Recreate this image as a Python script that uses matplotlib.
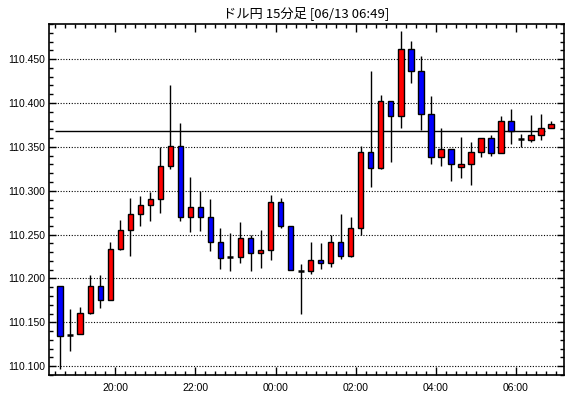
import matplotlib
matplotlib.use('Agg')
import matplotlib.pyplot as plt
from matplotlib.ticker import MultipleLocator, FixedLocator
import pandas as pd

plt.rcParams['font.family'] = ['Liberation Sans', 'DejaVu Sans']

# 15分足 OHLC (18:30 - 06:45)
start_time = '2018-06-12 18:30'
opens = [110.191, 110.136, 110.137, 110.161, 110.191, 110.175, 110.234, 110.255, 110.274, 110.284,
         110.291, 110.328, 110.351, 110.270, 110.281, 110.270, 110.241, 110.224, 110.224, 110.246,
         110.229, 110.233, 110.287, 110.260, 110.209, 110.209, 110.221, 110.218, 110.241, 110.226,
         110.258, 110.344, 110.326, 110.402, 110.385, 110.462, 110.436, 110.388, 110.339, 110.348,
         110.327, 110.331, 110.344, 110.360, 110.343, 110.380, 110.359, 110.358, 110.364, 110.372]
highs = [110.191, 110.165, 110.167, 110.204, 110.204, 110.241, 110.267, 110.292, 110.294, 110.298,
         110.350, 110.421, 110.377, 110.316, 110.300, 110.290, 110.257, 110.252, 110.264, 110.249,
         110.255, 110.295, 110.292, 110.260, 110.217, 110.241, 110.240, 110.250, 110.273, 110.270,
         110.351, 110.437, 110.409, 110.402, 110.482, 110.471, 110.453, 110.408, 110.372, 110.348,
         110.361, 110.356, 110.360, 110.364, 110.385, 110.393, 110.365, 110.386, 110.387, 110.380]
lows = [110.097, 110.117, 110.137, 110.159, 110.166, 110.175, 110.232, 110.226, 110.260, 110.265,
        110.275, 110.325, 110.266, 110.253, 110.254, 110.231, 110.211, 110.209, 110.218, 110.208,
        110.212, 110.221, 110.257, 110.210, 110.159, 110.205, 110.211, 110.213, 110.222, 110.225,
        110.250, 110.304, 110.325, 110.333, 110.372, 110.423, 110.369, 110.330, 110.328, 110.311,
        110.315, 110.306, 110.339, 110.340, 110.343, 110.353, 110.350, 110.356, 110.358, 110.372]
closes = [110.135, 110.136, 110.161, 110.191, 110.175, 110.234, 110.255, 110.274, 110.284, 110.291,
          110.328, 110.351, 110.270, 110.281, 110.270, 110.241, 110.223, 110.224, 110.246, 110.229,
          110.233, 110.287, 110.260, 110.210, 110.209, 110.221, 110.218, 110.241, 110.226, 110.258,
          110.344, 110.326, 110.402, 110.385, 110.462, 110.436, 110.388, 110.339, 110.348, 110.331,
          110.331, 110.344, 110.360, 110.343, 110.380, 110.368, 110.359, 110.364, 110.372, 110.376]
ref_level = 110.368

times = pd.date_range(start_time, periods=len(opens), freq='15min')
xs = list(range(len(opens)))

fig = plt.figure(figsize=(5.70, 3.98), dpi=100)
ax = fig.add_axes([49 / 570, 1 - 375 / 398, (564 - 49) / 570, (375 - 24) / 398])

# ヒゲ
ax.vlines(xs, lows, highs, color='black', linewidth=1.0, zorder=3)

# 実体
for x, o, c in zip(xs, opens, closes):
    col = '#FF0000' if c > o else '#0000FF'
    h = abs(c - o)
    if h < 0.0015:
        ax.hlines((o + c) / 2, x - 0.3, x + 0.3, color='black', linewidth=1.8, zorder=4)
    else:
        ax.bar(x, h, bottom=min(o, c), width=0.55, color=col, edgecolor='black',
               linewidth=1.0, zorder=4)

ax.hlines(ref_level, -0.5, len(xs) - 1.6, color='black', linewidth=1.0, zorder=2)

ax.set_xlim(-1.12, len(xs) + 0.3)
ax.set_ylim(110.090, 110.490)

# 横軸 (2時間ごと)
major_pos = [i - 0.5 for i, t in enumerate(times) if t.minute == 0 and t.hour % 2 == 0]
major_lbl = [t.strftime('%H:%M') for t in times if t.minute == 0 and t.hour % 2 == 0]
ax.set_xticks(major_pos)
ax.set_xticklabels(major_lbl)
ax.xaxis.set_minor_locator(FixedLocator([i - 0.5 for i in xs] + [len(xs) - 0.5]))

ax.yaxis.set_major_locator(MultipleLocator(0.05))
ax.yaxis.set_minor_locator(MultipleLocator(0.01))
ax.yaxis.set_major_formatter(plt.FuncFormatter(lambda v, p: f'{v:.3f}'))
ax.grid(axis='y', which='major', color='black', linestyle=(0, (1, 1.5)), linewidth=0.8)

ax.tick_params(axis='both', which='both', direction='in', top=True, right=True,
               labelsize=7.5, colors='black', width=1.0)
ax.tick_params(axis='x', which='major', length=6, pad=6)
ax.tick_params(axis='x', which='minor', length=3)
ax.tick_params(axis='y', which='major', length=5, pad=3)
ax.tick_params(axis='y', which='minor', length=3)
for sp in ax.spines.values():
    sp.set_linewidth(1.2)

fig.text((49 + 564) / 2 / 570, 1 - 13 / 398, 'ドル円 15分足 [06/13 06:49]',
         ha='center', va='center', fontsize=9.5,
         family=['Noto Sans CJK JP', 'DejaVu Sans'])

fig.savefig('out.png', dpi=100)
